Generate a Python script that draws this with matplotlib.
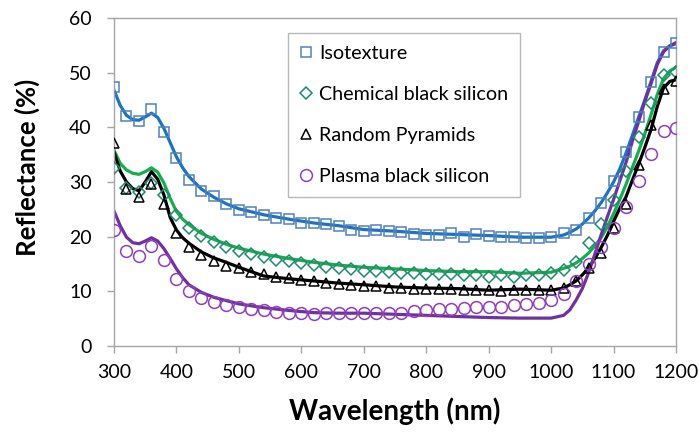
import matplotlib
matplotlib.use("Agg")
import matplotlib.pyplot as plt

# ---- data ----
marker_wl = list(range(300, 1201, 20))

iso_pts = [47.3, 42.1, 41.2, 43.3, 39.2, 34.3, 30.3, 28.3, 27.4, 26.0, 24.9, 24.6, 24.0, 23.4,
           23.2, 22.5, 22.5, 22.3, 21.9, 21.3, 21.1, 21.3, 21.0, 20.9, 20.5, 20.3, 20.3, 20.7,
           20.0, 20.5, 20.1, 19.9, 19.9, 19.7, 19.7, 20.0, 20.6, 21.3, 23.4, 26.1, 30.1, 35.4,
           41.9, 48.3, 53.7, 55.4]
chem_pts = [32.5, 28.9, 28.2, 29.8, 27.7, 24.0, 21.6, 20.1, 19.1, 18.2, 17.4, 16.8, 16.3, 15.8,
            15.5, 15.1, 14.8, 14.5, 14.3, 14.0, 13.8, 13.7, 13.6, 13.3, 13.3, 13.1, 13.1, 13.1,
            13.0, 13.0, 12.7, 13.0, 12.6, 12.9, 13.0, 13.3, 13.9, 15.4, 18.8, 22.4, 26.7, 32.1,
            38.3, 44.5, 49.6, 50.2]
rand_pts = [37.2, 28.7, 27.3, 29.7, 25.9, 20.7, 18.2, 16.7, 15.6, 14.6, 14.2, 13.5, 13.1, 12.6,
            12.5, 12.0, 11.8, 11.5, 11.4, 11.2, 10.9, 10.9, 10.6, 10.6, 10.5, 10.5, 10.4, 10.5,
            10.3, 10.3, 10.2, 10.1, 10.3, 10.2, 10.2, 10.3, 10.7, 11.8, 14.2, 17.1, 21.5, 26.0,
            33.1, 40.4, 47.1, 48.5]
plasma_pts = [21.3, 17.3, 16.5, 18.3, 15.7, 12.2, 10.0, 8.8, 8.0, 7.5, 7.1, 6.8, 6.5, 6.3,
              6.1, 6.0, 5.9, 6.0, 6.0, 6.0, 6.1, 6.1, 6.1, 6.1, 6.4, 6.6, 6.8, 6.8,
              6.9, 7.1, 7.2, 7.2, 7.5, 7.6, 7.8, 8.5, 9.5, 11.8, 15.0, 18.2, 21.5, 25.5,
              30.2, 35.2, 39.4, 39.9]

line_wl = [300, 310, 320, 330, 340, 350, 360, 370, 380, 390, 400, 410, 420, 440, 460, 480, 500,
           540, 580, 620, 660, 700, 750, 800, 850, 900, 950, 1000, 1020, 1030, 1040, 1050, 1060,
           1070, 1080, 1090, 1100, 1110, 1120, 1130, 1140, 1150, 1160, 1170, 1180, 1190, 1200]
iso_line = [46.8, 44.0, 42.2, 41.4, 41.3, 41.9, 42.6, 41.8, 39.8, 37.2, 34.6, 32.6, 31.0, 28.7,
            27.2, 26.0, 25.1, 24.0, 23.2, 22.5, 22.0, 21.3, 21.0, 20.6, 20.4, 20.2, 19.9, 19.9,
            20.3, 20.8, 21.4, 22.3, 23.4, 24.7, 26.2, 28.0, 30.0, 32.4, 35.3, 38.5, 41.8, 45.0,
            48.4, 51.8, 54.0, 54.9, 55.3]
chem_line = [35.8, 33.4, 32.2, 31.6, 31.4, 31.9, 32.6, 31.8, 29.8, 27.0, 24.6, 23.2, 22.2, 20.6,
             19.5, 18.6, 17.9, 16.8, 16.0, 15.3, 14.8, 14.4, 14.1, 13.8, 13.6, 13.6, 13.3, 13.5,
             14.2, 14.6, 15.2, 16.0, 17.0, 18.3, 19.8, 21.8, 24.2, 26.8, 29.6, 32.6, 35.6, 38.8,
             42.3, 46.0, 48.9, 50.3, 51.0]
rand_line = [35.5, 32.0, 30.0, 28.8, 28.4, 30.0, 31.9, 30.5, 27.6, 23.5, 21.2, 19.8, 18.8, 17.2,
             16.1, 15.3, 14.4, 12.8, 12.3, 11.9, 11.5, 11.2, 10.8, 10.6, 10.5, 10.2, 10.4, 10.2,
             10.6, 11.2, 11.9, 13.0, 14.3, 16.0, 18.0, 20.2, 22.8, 25.2, 27.3, 30.3, 33.2, 36.3,
             39.6, 43.8, 47.2, 48.4, 48.7]
plasma_line = [24.7, 22.0, 19.9, 18.9, 18.7, 19.2, 19.8, 19.2, 17.8, 16.0, 14.1, 12.5, 11.2, 9.8,
               8.9, 8.3, 7.7, 7.0, 6.5, 6.1, 6.0, 6.0, 5.8, 5.6, 5.4, 5.2, 5.1, 5.1,
               5.6, 6.6, 8.4, 10.5, 13.4, 16.8, 20.3, 23.6, 26.8, 30.2, 33.6, 37.4, 41.0, 44.7,
               48.0, 51.5, 53.8, 54.9, 55.5]

labels = ["Isotexture", "Chemical black silicon", "Random Pyramids", "Plasma black silicon"]
x_ticks = list(range(300, 1201, 100))
y_ticks = list(range(0, 61, 10))

# ---- plot ----
plt.rcParams['font.family'] = ['Lato', 'DejaVu Sans']
fig = plt.figure(figsize=(6.99, 4.32), dpi=100)
ax = fig.add_axes([0.1631, 0.1991, 0.8040, 0.7592])

gray = '#a6a6a6'
lw = 2.3
ax.plot(line_wl, iso_line, color='#1a73c7', lw=lw, zorder=2)
ax.plot(line_wl, chem_line, color='#12b04c', lw=lw, zorder=2)
ax.plot(line_wl, rand_line, color='#000000', lw=lw, zorder=2)
ax.plot(line_wl, plasma_line, color='#7030a0', lw=lw, zorder=2)

ax.plot(marker_wl, iso_pts, ls='none', marker='s', ms=7, mfc='none', mec='#4f81bd', mew=1.1,
        label=labels[0], zorder=3)
ax.plot(marker_wl, chem_pts, ls='none', marker='D', ms=6, mfc='none', mec='#1f8a70', mew=1.1,
        label=labels[1], zorder=3)
ax.plot(marker_wl, rand_pts, ls='none', marker='^', ms=7, mfc='none', mec='#000000', mew=1.1,
        label=labels[2], zorder=3)
ax.plot(marker_wl, plasma_pts, ls='none', marker='o', ms=8.5, mfc='none', mec='#8e3fbf', mew=1.1,
        label=labels[3], zorder=3)

ax.set_xlim(300, 1200)
ax.set_ylim(0, 60)
ax.set_xticks(x_ticks)
ax.set_yticks(y_ticks)
ax.tick_params(axis='both', direction='out', length=5, width=1, color=gray,
               labelsize=14, labelcolor='#000000')
ax.tick_params(axis='x', pad=8)
ax.tick_params(axis='y', pad=11)
for s in ax.spines.values():
    s.set_color(gray)
    s.set_linewidth(1)

ax.set_xlabel("Wavelength (nm)", fontsize=20, fontweight='bold', labelpad=12)
ax.set_ylabel("Reflectance (%)", fontsize=18.5, fontweight='bold')
ax.yaxis.set_label_coords(-0.132, 0.545)

leg = ax.legend(loc='upper left', bbox_to_anchor=(0.309, 0.955), fontsize=14.2,
                frameon=True, fancybox=False, borderpad=0.6, labelspacing=1.22,
                handletextpad=0.3, handlelength=0.7, borderaxespad=0)
leg.get_frame().set_edgecolor(gray)
leg.get_frame().set_linewidth(1)

fig.savefig("out.png", dpi=100)
